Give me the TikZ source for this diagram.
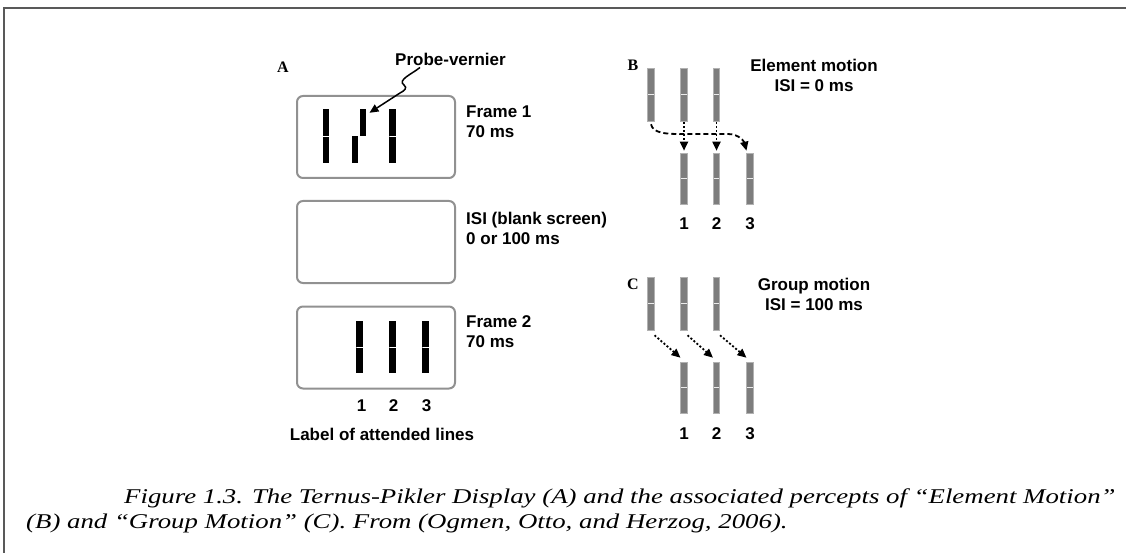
\documentclass[tikz,border=0pt]{standalone}
\usepackage{fontspec}
\usepackage{graphicx}
\setmainfont{Liberation Serif}
\setsansfont{Liberation Sans}
\usetikzlibrary{arrows.meta, positioning}
\definecolor{framegray}{RGB}{145,145,145}
\definecolor{bargray}{RGB}{125,125,125}
\newcommand{\capstretch}[1]{\scalebox{1.277}[1]{#1}}

\begin{document}
\begin{tikzpicture}[
        x=1pt, y=-1pt,
        screen/.style={draw=framegray, line width=2pt, rounded corners=6pt, minimum width=158pt, minimum height=82pt, inner sep=0pt},
        blackbar/.style={fill=black, inner sep=0pt, minimum width=6.5pt, minimum height=#1, path picture={\draw[white, line width=0.8pt] (path picture bounding box.west) -- (path picture bounding box.east);}},
        halfbar/.style={fill=black, inner sep=0pt, minimum width=6.5pt, minimum height=27pt},
        graybar/.style={fill=bargray, draw=bargray!60, line width=0.6pt, inner sep=0pt, minimum width=6.5pt, minimum height=#1, path picture={\draw[white!85!bargray, line width=1.2pt] (path picture bounding box.west) -- (path picture bounding box.east);}},
        lbl/.style={font=\sffamily\bfseries\fontsize{17}{20}\selectfont, inner sep=0pt, align=left},
        panel/.style={font=\bfseries\fontsize{16}{18}\selectfont, inner sep=0pt},
        captext/.style={font=\itshape\fontsize{21}{25}\selectfont, inner sep=0pt, anchor=base west},
        arrow/.style={-{Triangle[length=9pt,width=8pt]}, line width=1.8pt},
        dasharrow/.style={arrow, dash pattern=on 5pt off 3pt},
        dotarrow/.style={arrow, dash pattern=on 2pt off 2pt}
    ]
        \useasboundingbox (0,0) rectangle (1126,553);
        % outer frame
        \draw[black!65, line width=1.5pt] (4,553) -- (4,8) -- (1126,8);

        % A: the three screens
        \node[panel] (pA) at (283,67) {A};
        \node[screen] (scr1) at (376,137) {};
        \node[screen] (scr2) at (376,242) {};
        \node[screen] (scr3) at (376,347.5) {};
        \node[lbl, anchor=west] (f1lab) at (466,122) {Frame 1\\70 ms};
        \node[lbl, anchor=west] (isilab) at (466,228) {ISI (blank screen)\\0 or 100 ms};
        \node[lbl, anchor=west] (f2lab) at (466,332) {Frame 2\\70 ms};

        % frame 1 lines
        \node[blackbar=54pt] (fa1) at (326,136) {};
        \node[halfbar] (pvlow) at (355,149.5) {};
        \node[halfbar] (pvup) at (363,122.5) {};
        \node[blackbar=54pt] (fa3) at (392.5,136) {};

        % frame 2 lines
        \node[blackbar=52pt] (fb1) at (359.5,347) {};
        \node[blackbar=52pt] (fb2) at (392.5,347) {};
        \node[blackbar=52pt] (fb3) at (425.5,347) {};
        \node[lbl, below=26pt of fb1, xshift=2pt] (na1) {1};
        \node[lbl, below=26pt of fb2, xshift=1pt] (na2) {2};
        \node[lbl, below=26pt of fb3, xshift=1pt] (na3) {3};
        \node[lbl] (attlab) at (382,434) {Label of attended lines};

        % probe-vernier pointer
        \node[lbl, anchor=west] (probe) at (395,59) {Probe-vernier};
        \draw[arrow, line width=1.5pt] ([xshift=25pt,yshift=-2pt]probe.south west) .. controls (412,74) and (397,80) .. (404,85) .. controls (408,88) and (404,91) .. (400,93) -- ([xshift=3pt,yshift=-4pt]pvup.north east);

        % B: element motion
        \node[panel] (pB) at (633,65) {B};
        \node[lbl, align=center] (emot) at (814,75) {Element motion\\ISI = 0 ms};
        \node[graybar=53pt] (tb1) at (651,94.5) {};
        \node[graybar=53pt] (tb2) at (684,94.5) {};
        \node[graybar=53pt] (tb3) at (716.5,94.5) {};
        \node[graybar=51pt] (bb1) at (684,178.5) {};
        \node[graybar=51pt] (bb2) at (716.5,178.5) {};
        \node[graybar=51pt] (bb3) at (750,178.5) {};
        \node[lbl, below=13pt of bb1] (nb1) {1};
        \node[lbl, below=13pt of bb2] (nb2) {2};
        \node[lbl, below=13pt of bb3] (nb3) {3};
        \draw[dasharrow] ([yshift=-3pt]tb1.south) .. controls +(2,9) and +(-14,0) .. (680,134) -- (728,134) .. controls +(12,0) and +(-2,-8) .. ([yshift=2pt]bb3.north west);
        \draw[dotarrow] ([yshift=-1pt]tb2.south) -- ([yshift=2pt]bb1.north);
        \draw[dotarrow] ([yshift=-1pt]tb3.south) -- ([yshift=2pt]bb2.north);

        % C: group motion
        \node[panel] (pC) at (633,284) {C};
        \node[lbl, align=center] (gmot) at (814,294) {Group motion\\ISI = 100 ms};
        \node[graybar=53pt] (ct1) at (651,303.5) {};
        \node[graybar=53pt] (ct2) at (684,303.5) {};
        \node[graybar=53pt] (ct3) at (716.5,303.5) {};
        \node[graybar=51pt] (cb1) at (684,387.5) {};
        \node[graybar=51pt] (cb2) at (716.5,387.5) {};
        \node[graybar=51pt] (cb3) at (750,387.5) {};
        \node[lbl, below=14pt of cb1] (nc1) {1};
        \node[lbl, below=14pt of cb2] (nc2) {2};
        \node[lbl, below=14pt of cb3] (nc3) {3};
        \draw[dotarrow] ([yshift=-5pt]ct1.south east) -- ([yshift=4pt]cb1.north west);
        \draw[dotarrow] ([yshift=-5pt]ct2.south east) -- ([yshift=4pt]cb2.north west);
        \draw[dotarrow] ([yshift=-5pt]ct3.south east) -- ([yshift=4pt]cb3.north west);

        % caption
        \node[captext] (cap1) at (124,503) {\capstretch{Figure 1.3. The Ternus-Pikler Display (A) and the associated percepts of ``Element Motion''}};
        \node[captext] (cap2) at (26,528) {\capstretch{(B) and ``Group Motion'' (C). From (Ogmen, Otto, and Herzog, 2006).}};
\end{tikzpicture}
\end{document}
